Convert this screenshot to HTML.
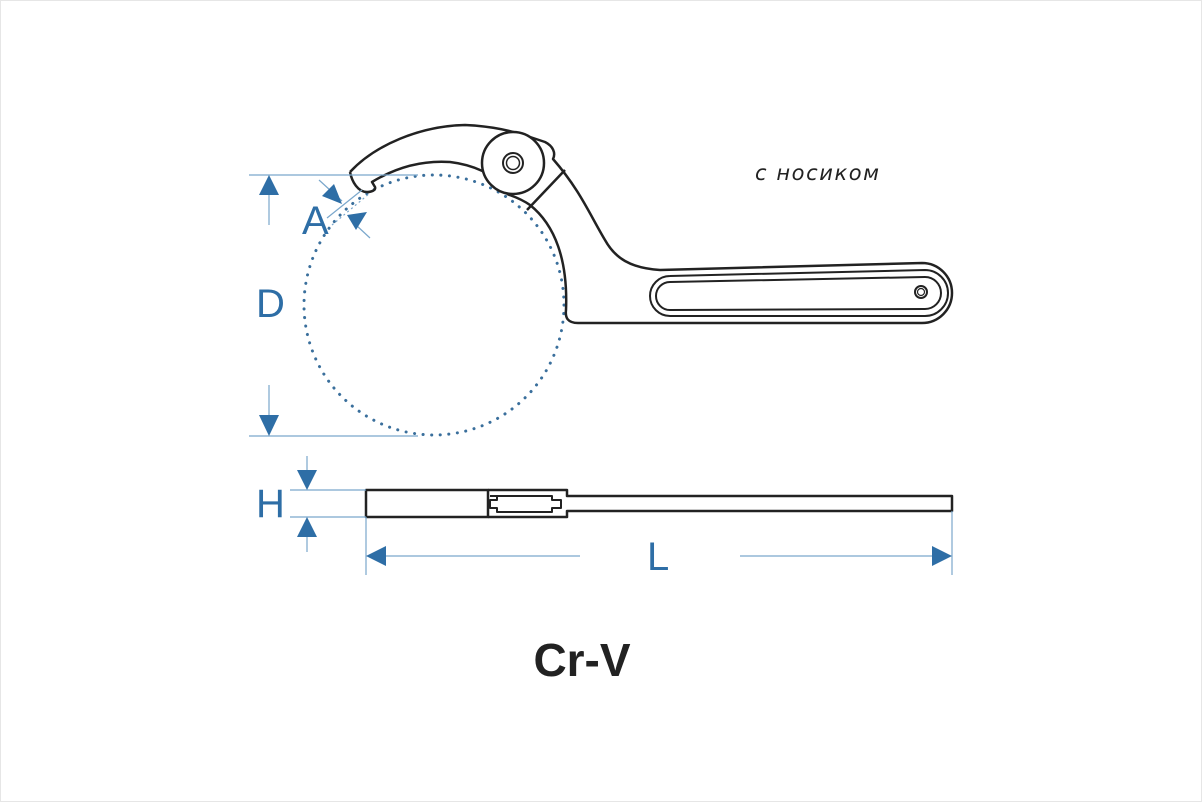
<!DOCTYPE html>
<html><head><meta charset="utf-8"><style>
html,body{margin:0;padding:0;background:#fff}
svg{display:block}
</style></head><body>
<svg width="1202" height="802" viewBox="0 0 1202 802" xmlns="http://www.w3.org/2000/svg">
<rect x="0.5" y="0.5" width="1201" height="801" fill="#fff" stroke="#e6e6e6"/>
<circle cx="434" cy="305" r="130" fill="none" stroke="#3a6f9c" stroke-width="3" stroke-dasharray="0.1 8.5" stroke-linecap="round"/>
<g fill="none" stroke="#222" stroke-width="2.5" stroke-linejoin="round">
<path d="M350,172 C375,145 420,126 465,125 C490,126 510,130 530,137 L545,142 C553,146 556,153 553,159 C580,190 590,215 605,240 C615,258 630,268 660,270 L922,263 A30,30 0 0 1 922,323 L578,323 C568,323 565,318 566,310 C568,260 555,225 530,205 C520,198 512,196 507,194"/>
<path d="M350,172 C352,182 358,192 367,192 C372,192 376,190 375,187 L372,182 C395,168 420,160 450,162 C475,165 493,175 503,185"/>
<circle cx="513" cy="163" r="31" fill="#fff"/>
<circle cx="513" cy="163" r="10" stroke-width="2"/>
<circle cx="513" cy="163" r="6.5" stroke-width="1.5"/>
<line x1="527" y1="210" x2="565" y2="170"/>
<path d="M670,276 L925,270 A23,23 0 0 1 925,316 L670,316 A20,20 0 0 1 670,276 Z" stroke-width="2"/>
<path d="M670,282 L925,277 A16,16 0 0 1 925,309 L670,310 A14,14 0 0 1 670,282 Z" stroke-width="2"/>
<circle cx="921" cy="292" r="6" stroke-width="2"/>
<circle cx="921" cy="292" r="3.5" stroke-width="1.2"/>
<rect x="366" y="490" width="122" height="27" stroke-width="2.5"/>
<path d="M488,490 L567,490 L567,496 L952,496 L952,511 L567,511 L567,517 L488,517" stroke-width="2.5"/>
<path d="M490,496 L552,496 L552,500 L561,500 L561,508 L552,508 L552,512 L497,512 L497,508 L490,508 L490,500 L497,500 L497,496" stroke-width="2"/>
</g>
<g stroke="#7aa7cc" stroke-width="1.2" fill="none">
<line x1="249" y1="175" x2="418" y2="175"/>
<line x1="249" y1="436" x2="418" y2="436"/>
<line x1="269" y1="195" x2="269" y2="225"/>
<line x1="269" y1="385" x2="269" y2="415"/>
<line x1="290" y1="490" x2="366" y2="490"/>
<line x1="290" y1="517" x2="366" y2="517"/>
<line x1="307" y1="456" x2="307" y2="470"/>
<line x1="307" y1="537" x2="307" y2="552"/>
<line x1="366" y1="517" x2="366" y2="575"/>
<line x1="952" y1="511" x2="952" y2="575"/>
<line x1="385" y1="556" x2="580" y2="556"/>
<line x1="740" y1="556" x2="932" y2="556"/>
<line x1="319" y1="180" x2="342" y2="201"/>
<line x1="327" y1="218" x2="362" y2="190"/>
<line x1="332" y1="225" x2="370" y2="193" stroke-dasharray="2 3"/>
<line x1="356" y1="225" x2="370" y2="238"/>
</g>
<g fill="#2e6ea6">
<polygon points="269,175 259,195 279,195"/>
<polygon points="269,436 259,415 279,415"/>
<polygon points="307,490 297,470 317,470"/>
<polygon points="307,517 297,537 317,537"/>
<polygon points="366,556 386,546 386,566"/>
<polygon points="952,556 932,546 932,566"/>
<polygon points="342,204 322,196 334,184"/>
<polygon points="347,215 367,212 356,230"/>
</g>
<g font-family="Liberation Sans, sans-serif" fill="#2e6ea6" font-size="40">
<text x="302" y="234">A</text>
<text x="256" y="317">D</text>
<text x="256" y="517">H</text>
<text x="647" y="570">L</text>
</g>
<text x="755" y="180" font-family="DejaVu Sans, sans-serif" font-style="italic" font-size="21" fill="#222" textLength="124">с носиком</text>
<text x="582" y="676" text-anchor="middle" font-family="Liberation Sans, sans-serif" font-weight="bold" font-size="46" fill="#222">Cr-V</text>
</svg>
</body></html>
